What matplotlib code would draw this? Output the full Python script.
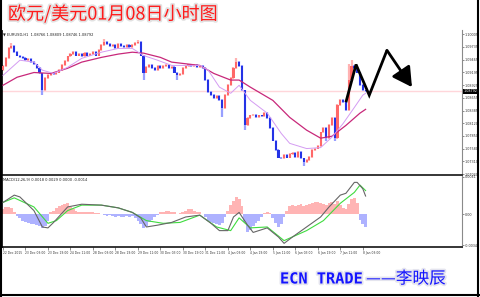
import matplotlib
matplotlib.use("Agg")
import matplotlib.pyplot as plt
import matplotlib.patheffects as pe
import matplotlib.transforms as mtransforms
from matplotlib.lines import Line2D

# EURUSD, 2-hour steps, 22 Dec 2015 .. 8 Jan 2016
close = [
    1.0932, 1.0949, 1.0970, 1.0975, 1.0962, 1.0955, 1.0951, 1.0949, 1.0945, 1.0947,
    1.0941, 1.0936, 1.0928, 1.0917, 1.0881, 1.0907, 1.0913, 1.0917, 1.0915, 1.0919,
    1.0924, 1.0934, 1.0943, 1.0953, 1.0958, 1.0962, 1.0955, 1.0958, 1.0953, 1.0960,
    1.0955, 1.0958, 1.0962, 1.0955, 1.0966, 1.0977, 1.0983, 1.0979, 1.0975, 1.0977,
    1.0970, 1.0979, 1.0975, 1.0972, 1.0977, 1.0972, 1.0977, 1.0981, 1.0983, 1.0955,
    1.0919, 1.0930, 1.0934, 1.0928, 1.0924, 1.0932, 1.0928, 1.0932, 1.0934, 1.0928,
    1.0930, 1.0919, 1.0913, 1.0915, 1.0928, 1.0932, 1.0936, 1.0932, 1.0934, 1.0930,
    1.0932, 1.0928, 1.0903, 1.0877, 1.0871, 1.0864, 1.0869, 1.0860, 1.0843, 1.0871,
    1.0892, 1.0907, 1.0928, 1.0941, 1.0932, 1.0881, 1.0807, 1.0822, 1.0828, 1.0830,
    1.0824, 1.0828, 1.0826, 1.0833, 1.0822, 1.0801, 1.0775, 1.0754, 1.0739, 1.0737,
    1.0744, 1.0739, 1.0746, 1.0748, 1.0741, 1.0750, 1.0737, 1.0729, 1.0733, 1.0741,
    1.0754, 1.0758, 1.0763, 1.0792, 1.0801, 1.0780, 1.0807, 1.0822, 1.0780, 1.0850,
    1.0860, 1.0856, 1.0839, 1.0903, 1.0932, 1.0928, 1.0919, 1.0892, 1.0881, 1.0879,
]
first_open = 1.0925
spike_hi = {3: 1.0981, 36: 1.0990, 48: 1.0988, 83: 1.0949, 123: 1.0936, 124: 1.0945}
spike_lo = {14: 1.0871, 50: 1.0903, 62: 1.0903, 78: 1.0824, 86: 1.0797,
            107: 1.0720, 115: 1.0775, 118: 1.0775}

ma_fast_idx = [0, 6, 11, 14, 18, 23, 28, 35, 41, 46, 50, 55, 60, 70, 73, 77, 81, 84,
               88, 94, 99, 102, 108, 113, 117, 121, 125, 128, 129]
ma_fast = [1.0913, 1.0945, 1.0941, 1.0924, 1.0917, 1.0930, 1.0949, 1.0962, 1.0970,
           1.0970, 1.0955, 1.0945, 1.0934, 1.0934, 1.0924, 1.0888, 1.0875, 1.0892,
           1.0860, 1.0833, 1.0790, 1.0769, 1.0758, 1.0760, 1.0782, 1.0811, 1.0845,
           1.0871, 1.0875]
ma_slow_idx = [0, 5, 11, 17, 23, 28, 35, 41, 46, 50, 56, 60, 70, 75, 81, 84, 88, 96,
               102, 108, 113, 117, 122, 127, 129]
ma_slow = [1.0892, 1.0909, 1.0919, 1.0917, 1.0928, 1.0941, 1.0951, 1.0958, 1.0962,
           1.0960, 1.0951, 1.0941, 1.0934, 1.0917, 1.0903, 1.0903, 1.0888, 1.0860,
           1.0824, 1.0797, 1.0780, 1.0784, 1.0807, 1.0833, 1.0841]
last_price = 1.08792

hist = [
    0.0006, 0.0008, 0.0008, 0.0007, 0.0003, -0.0002, -0.0004, -0.0007, -0.0009, -0.0010,
    -0.0011, -0.0011, -0.0012, -0.0013, -0.0015, -0.0013, -0.0007, 0.0002, 0.0004, 0.0007,
    0.0009, 0.0010, 0.0011, 0.0012, 0.0008, 0.0006, 0.0004, 0.0003, 0.0003, 0.0002,
    0.0003, 0.0002, 0.0002, 0.0001, 0.0001, 0.0000, -0.0001, -0.0002, -0.0001, -0.0002,
    -0.0003, -0.0002, -0.0003, -0.0003, -0.0002, -0.0003, -0.0002, -0.0004, -0.0007, -0.0011,
    -0.0015, -0.0013, -0.0009, -0.0006, -0.0003, -0.0001, 0.0002, 0.0003, 0.0004, 0.0004,
    0.0003, 0.0002, 0.0000, 0.0001, 0.0003, 0.0004, 0.0006, 0.0006, 0.0004, 0.0003,
    0.0002, 0.0000, -0.0003, -0.0007, -0.0009, -0.0010, -0.0011, -0.0012, -0.0010, -0.0003,
    0.0004, 0.0010, 0.0015, 0.0019, 0.0017, 0.0009, -0.0009, -0.0020, -0.0017, -0.0013,
    -0.0010, -0.0007, -0.0003, 0.0001, 0.0002, 0.0001, -0.0004, -0.0010, -0.0014, -0.0011,
    -0.0003, 0.0004, 0.0009, 0.0010, 0.0009, 0.0010, 0.0011, 0.0009, 0.0010, 0.0011,
    0.0012, 0.0013, 0.0013, 0.0012, 0.0011, 0.0010, 0.0012, 0.0013, 0.0011, 0.0014,
    0.0010, 0.0007, 0.0006, 0.0011, 0.0017, 0.0018, 0.0012, -0.0006, -0.0011, -0.0014,
]
macd_idx = [0, 4, 6, 11, 14, 16, 18, 23, 28, 35, 41, 46, 49, 51, 55, 60, 65, 70, 74,
            77, 80, 82, 84, 87, 89, 94, 98, 100, 103, 108, 113, 116, 120, 122, 125,
            126, 128, 129]
macd_line = [0.0013, 0.0021, 0.0019, 0.0004, -0.0014, -0.0015, -0.0009, 0.0008,
             0.0011, 0.0010, 0.0007, 0.0002, -0.0004, -0.0014, -0.0012, -0.0009,
             -0.0003, -0.0001, -0.0010, -0.0018, -0.0018, -0.0003, 0.0002, -0.0012,
             -0.0020, -0.0015, -0.0025, -0.0032, -0.0025, -0.0014, -0.0003, 0.0008,
             0.0021, 0.0023, 0.0035, 0.0035, 0.0028, 0.0020]
sig_idx = [0, 4, 11, 16, 19, 23, 28, 35, 41, 46, 51, 57, 63, 70, 76, 81, 84, 88, 94,
           100, 108, 114, 120, 125, 127, 129]
sig_line = [0.0013, 0.0018, 0.0008, -0.0010, -0.0007, 0.0004, 0.0010, 0.0010,
            0.0007, 0.0002, -0.0007, -0.0010, -0.0009, -0.0001, -0.0014, -0.0018,
            -0.0004, -0.0015, -0.0014, -0.0029, -0.0018, -0.0007, 0.0012, 0.0024,
            0.0032, 0.0026]

price_ticks = [1.10005, 1.09735, 1.09465, 1.09195, 1.08925, 1.08655,
               1.08385, 1.08120, 1.07850, 1.07580, 1.07310, 1.07040]
macd_ticks = [0.0041, 0.0, -0.0034]
macd_tick_labels = ["0.0041", "0.00", "-0.0034"]
time_pos = list(range(0, 129, 8))
time_labels = ["22 Dec 2015", "23 Dec 03:00", "23 Dec 19:00", "24 Dec 11:00",
               "28 Dec 03:00", "28 Dec 19:00", "29 Dec 11:00", "30 Dec 03:00",
               "30 Dec 19:00", "31 Dec 11:00", "4 Jan 03:00", "4 Jan 19:00",
               "5 Jan 11:00", "6 Jan 03:00", "6 Jan 19:00", "7 Jan 11:00",
               "8 Jan 03:00"]

# hand-drawn forecast zigzag
zig_x = [122.0, 125.6, 130.3, 136.6, 145.5]
zig_y = [1.0856, 1.0936, 1.0871, 1.0966, 1.0888]

W, H = 480, 297
fig = plt.figure(figsize=(W / 100, H / 100), dpi=100)
fig.patch.set_facecolor("white")

ax1 = fig.add_axes([2 / W, 1 - 175 / H, 460 / W, 145 / H])
ax2 = fig.add_axes([2 / W, 1 - 247 / H, 460 / W, 71 / H], sharex=ax1)

# candles
opens = [first_open] + close[:-1]
xs = list(range(len(close)))
body_col, wick_col, bottoms, heights, his, los = [], [], [], [], [], []
for i, (o, c) in enumerate(zip(opens, close)):
    up = c >= o
    body_col.append("#ff6868" if up else "#2433e6")
    wick_col.append("#ffb2b2" if up else "#98a0ff")
    bottoms.append(min(o, c))
    heights.append(max(abs(c - o), 0.0001))
    his.append(spike_hi.get(i, max(o, c) + 0.0002))
    los.append(spike_lo.get(i, min(o, c) - 0.0002))

ax1.axhline(last_price, color="#ffd6da", lw=1.0, zorder=0)
ax1.vlines(xs, los, his, colors=wick_col, lw=1.6, zorder=2)
ax1.bar(xs, heights, bottom=bottoms, width=0.75, color=body_col, linewidth=0, zorder=3)
ax1.plot(ma_slow_idx, ma_slow, color="#c8287a", lw=0.9, zorder=4)
ax1.plot(ma_fast_idx, ma_fast, color="#d49cf2", lw=0.7, zorder=4)

ax1.plot(zig_x[:-1], zig_y[:-1], color="black", lw=2.0, zorder=6,
         solid_joinstyle="miter", solid_capstyle="butt")
ax1.annotate("", xy=(zig_x[-1], zig_y[-1]), xytext=(zig_x[-2], zig_y[-2]),
             arrowprops=dict(arrowstyle="-|>,head_length=0.9,head_width=0.5",
                             lw=2.0, color="black", mutation_scale=13,
                             shrinkA=0, shrinkB=0),
             zorder=6)

ax1.set_xlim(-0.36, 163.3)
ax1.set_ylim(1.0702, 1.1009)
ax1.yaxis.tick_right()
ax1.set_yticks(price_ticks)
ax1.set_yticklabels([f"{v:.5f}" for v in price_ticks])
ax1.tick_params(axis="y", labelsize=2.4, length=1.2, width=0.4, pad=0.6,
                colors="#333333")
ax1.tick_params(axis="x", bottom=False, labelbottom=False)

trans = mtransforms.blended_transform_factory(ax1.transAxes, ax1.transData)
ax1.text(1.003, last_price, f"{last_price:.5f}", transform=trans, fontsize=2.4,
         color="white", va="center", ha="left",
         bbox=dict(facecolor="black", edgecolor="none", pad=0.3))
ax1.text(0.003, 0.985, "\u25bc EURUSD,H1  1.08766 1.08809 1.08746 1.08792",
         transform=ax1.transAxes, fontsize=2.6, va="top", ha="left", color="#222222")

# MACD window
hist_col = ["#ffb4b4" if v >= 0 else "#aeb2ff" for v in hist]
ax2.bar(xs, hist, width=1.0, color=hist_col, linewidth=0, zorder=1)
ax2.plot(macd_idx, macd_line, color="#666666", lw=0.8, zorder=3)
ax2.plot(sig_idx, sig_line, color="#3fdc3f", lw=0.8, zorder=2)
ax2.set_ylim(-0.0036, 0.0042)
ax2.yaxis.tick_right()
ax2.set_yticks(macd_ticks)
ax2.set_yticklabels(macd_tick_labels)
ax2.tick_params(axis="y", labelsize=2.4, length=1.2, width=0.4, pad=0.6,
                colors="#333333")
ax2.set_xticks(time_pos)
ax2.set_xticklabels(time_labels)
ax2.tick_params(axis="x", labelsize=2.2, length=2, width=0.4, pad=0.8,
                colors="#333333")
for lbl in ax2.get_xticklabels():
    lbl.set_horizontalalignment("left")
ax2.text(0.003, 0.975, "MACD(12,26,9) 0.0018 0.0029 0.0000 -0.0014",
         transform=ax2.transAxes, fontsize=2.6, va="top", ha="left", color="#222222")

for ax in (ax1, ax2):
    ax.spines["top"].set_visible(False)
    ax.spines["left"].set_color("black")
    ax.spines["left"].set_linewidth(0.6)
    ax.spines["right"].set_color("#8a8a8a")
    ax.spines["right"].set_linewidth(0.8)
    ax.spines["bottom"].set_color("black")
    ax.spines["bottom"].set_linewidth(1.1)
    ax.set_facecolor("white")

# titles
fig.text(8 / W, 1 - 14 / H, "欧元/美元01月08日小时图",
         family=["Noto Sans CJK SC", "DejaVu Sans"], fontsize=13, color="#ff1a1a",
         va="center", ha="left",
         path_effects=[pe.withStroke(linewidth=2.5, foreground="#e2e2e2")])
glow = [pe.withStroke(linewidth=2.5, foreground="#e4e4ee")]
fig.text(280 / W, 1 - 279 / H, "ECN TRADE", family=["DejaVu Sans Mono"],
         fontsize=11, fontweight="bold", color="#1414ff", va="center", ha="left",
         path_effects=glow)
fig.text(366 / W, 1 - 279 / H, "——李映辰", family=["Noto Sans CJK SC", "DejaVu Sans"],
         fontsize=12, color="#1414ff", va="center", ha="left", path_effects=glow)

# frame around the picture
for xa, ya in (([0.5 / W, 0.5 / W], [0, 1]),
               ([1 - 2 / W, 1 - 2 / W], [0, 1]),
               ([0, 1], [2 / H, 2 / H])):
    fig.add_artist(Line2D(xa, ya, transform=fig.transFigure, color="black", lw=1.5))

fig.savefig("out.png", dpi=100)
